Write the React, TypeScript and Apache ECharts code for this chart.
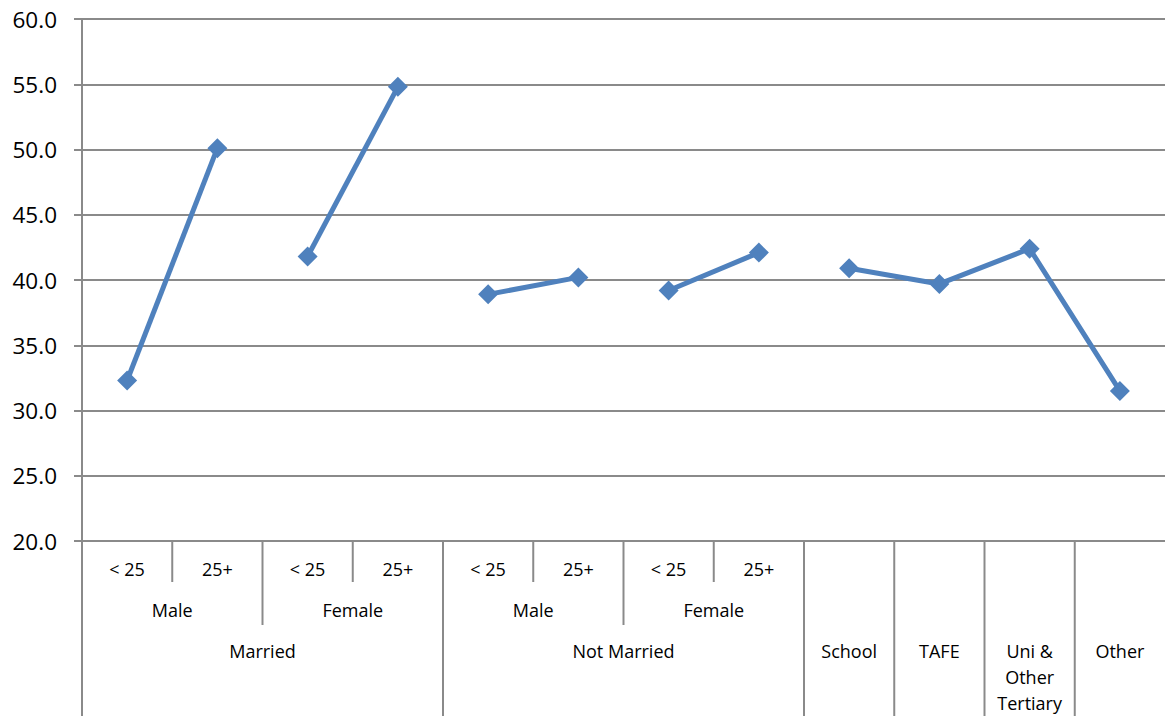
import React, { useEffect, useRef } from "react";
import * as echarts from "echarts";

// Leaf categories (bottom-level labels; blank where the group label stands alone)
const leafLabels = ["< 25", "25+", "< 25", "25+", "< 25", "25+", "< 25", "25+", "", "", "", ""];
const leafKeys = leafLabels.map((_, i) => "c" + i);

// Values for each leaf category
const values = [32.3, 50.1, 41.8, 54.8, 38.9, 40.2, 39.2, 42.1, 40.9, 39.7, 42.4, 31.5];

// Second level groups: [label, startIndex, endIndex(exclusive)]
const level2Groups: [string, number, number][] = [
  ["Male", 0, 2],
  ["Female", 2, 4],
  ["Male", 4, 6],
  ["Female", 6, 8],
];

// Third level groups
const level3Groups: [string, number, number][] = [
  ["Married", 0, 4],
  ["Not Married", 4, 8],
  ["School", 8, 9],
  ["TAFE", 9, 10],
  ["Uni &\nOther\nTertiary", 10, 11],
  ["Other", 11, 12],
];

// Connected runs of points
const segments: [number, number][] = [
  [0, 1],
  [2, 3],
  [4, 5],
  [6, 7],
  [8, 11],
];

const yTicks = { min: 20, max: 60, interval: 5 };

const FONT = "'Open Sans', sans-serif";
const LINE_COLOR = "#4F81BD";
const AXIS_GRAY = "#8a8a8a";

export default function App() {
  const ref = useRef<HTMLDivElement>(null);

  useEffect(() => {
    if (!ref.current) return;
    const chart = echarts.init(ref.current, undefined, { renderer: "svg" });

    const series = segments.map(([s, e]) => ({
      type: "line" as const,
      data: values.map((v, i) => (i >= s && i <= e ? v : null)),
      connectNulls: false,
      symbol: "diamond",
      symbolSize: 20,
      lineStyle: { color: LINE_COLOR, width: 5 },
      itemStyle: { color: LINE_COLOR },
      emphasis: { disabled: true },
    }));

    chart.setOption({
      animation: false,
      grid: { left: 82, right: 0, top: 19, bottom: 175, containLabel: false },
      xAxis: {
        type: "category",
        data: leafKeys,
        boundaryGap: true,
        axisLine: { show: true, lineStyle: { color: AXIS_GRAY, width: 2 } },
        axisTick: { show: false },
        axisLabel: { show: false },
        splitLine: { show: false },
      },
      yAxis: {
        type: "value",
        min: yTicks.min,
        max: yTicks.max,
        interval: yTicks.interval,
        axisLine: { show: true, lineStyle: { color: AXIS_GRAY, width: 2 } },
        axisTick: { show: true, length: 8, lineStyle: { color: AXIS_GRAY, width: 2 } },
        axisLabel: {
          margin: 25,
          fontSize: 22.5,
          fontFamily: FONT,
          color: "#000",
          formatter: (v: number) => v.toFixed(1),
        },
        splitLine: { show: true, lineStyle: { color: AXIS_GRAY, width: 2 } },
      },
      series,
    });

    // Multi-level category axis: dividers and labels placed from the axis scale
    const cx = (i: number) => chart.convertToPixel({ xAxisIndex: 0 }, leafKeys[i]) as number;
    const step = cx(1) - cx(0);
    const boundary = (k: number) => cx(0) - step / 2 + step * k;
    const yBase = chart.convertToPixel({ yAxisIndex: 0 }, yTicks.min) as number;
    const row1 = yBase + 28;
    const row2 = yBase + 69;
    const row3 = yBase + 97;
    const level1Bottom = yBase + 41;
    const level2Bottom = yBase + 84;
    const fullBottom = 716;

    const graphics: any[] = [];
    const vline = (x: number, y2: number) =>
      graphics.push({
        type: "line",
        shape: { x1: x, y1: yBase, x2: x, y2 },
        style: { stroke: AXIS_GRAY, lineWidth: 2 },
        silent: true,
      });

    const level3Starts = new Set(level3Groups.map((g) => g[1]));
    const level2Starts = new Set(level2Groups.map((g) => g[1]));
    for (let k = 0; k < leafKeys.length; k++) {
      if (level3Starts.has(k)) vline(boundary(k), fullBottom);
      else if (level2Starts.has(k)) vline(boundary(k), level2Bottom);
      else vline(boundary(k), level1Bottom);
    }

    const text = (str: string, x: number, y: number, va: string) =>
      graphics.push({
        type: "text",
        x,
        y,
        silent: true,
        style: {
          text: str,
          fontSize: 18,
          fontFamily: FONT,
          fill: "#000",
          align: "center",
          verticalAlign: va,
          lineHeight: 26,
        },
      });

    leafLabels.forEach((l, i) => {
      if (l) text(l, cx(i), row1, "middle");
    });
    level2Groups.forEach(([l, s, e]) => text(l, (boundary(s) + boundary(e)) / 2, row2, "middle"));
    level3Groups.forEach(([l, s, e]) => text(l, (boundary(s) + boundary(e)) / 2, row3, "top"));

    chart.setOption({ graphic: graphics });

    return () => chart.dispose();
  }, []);

  return (
    <div
      ref={ref}
      style={{ position: "fixed", left: 0, top: 0, width: 1165, height: 716, background: "#fff" }}
    />
  );
}
